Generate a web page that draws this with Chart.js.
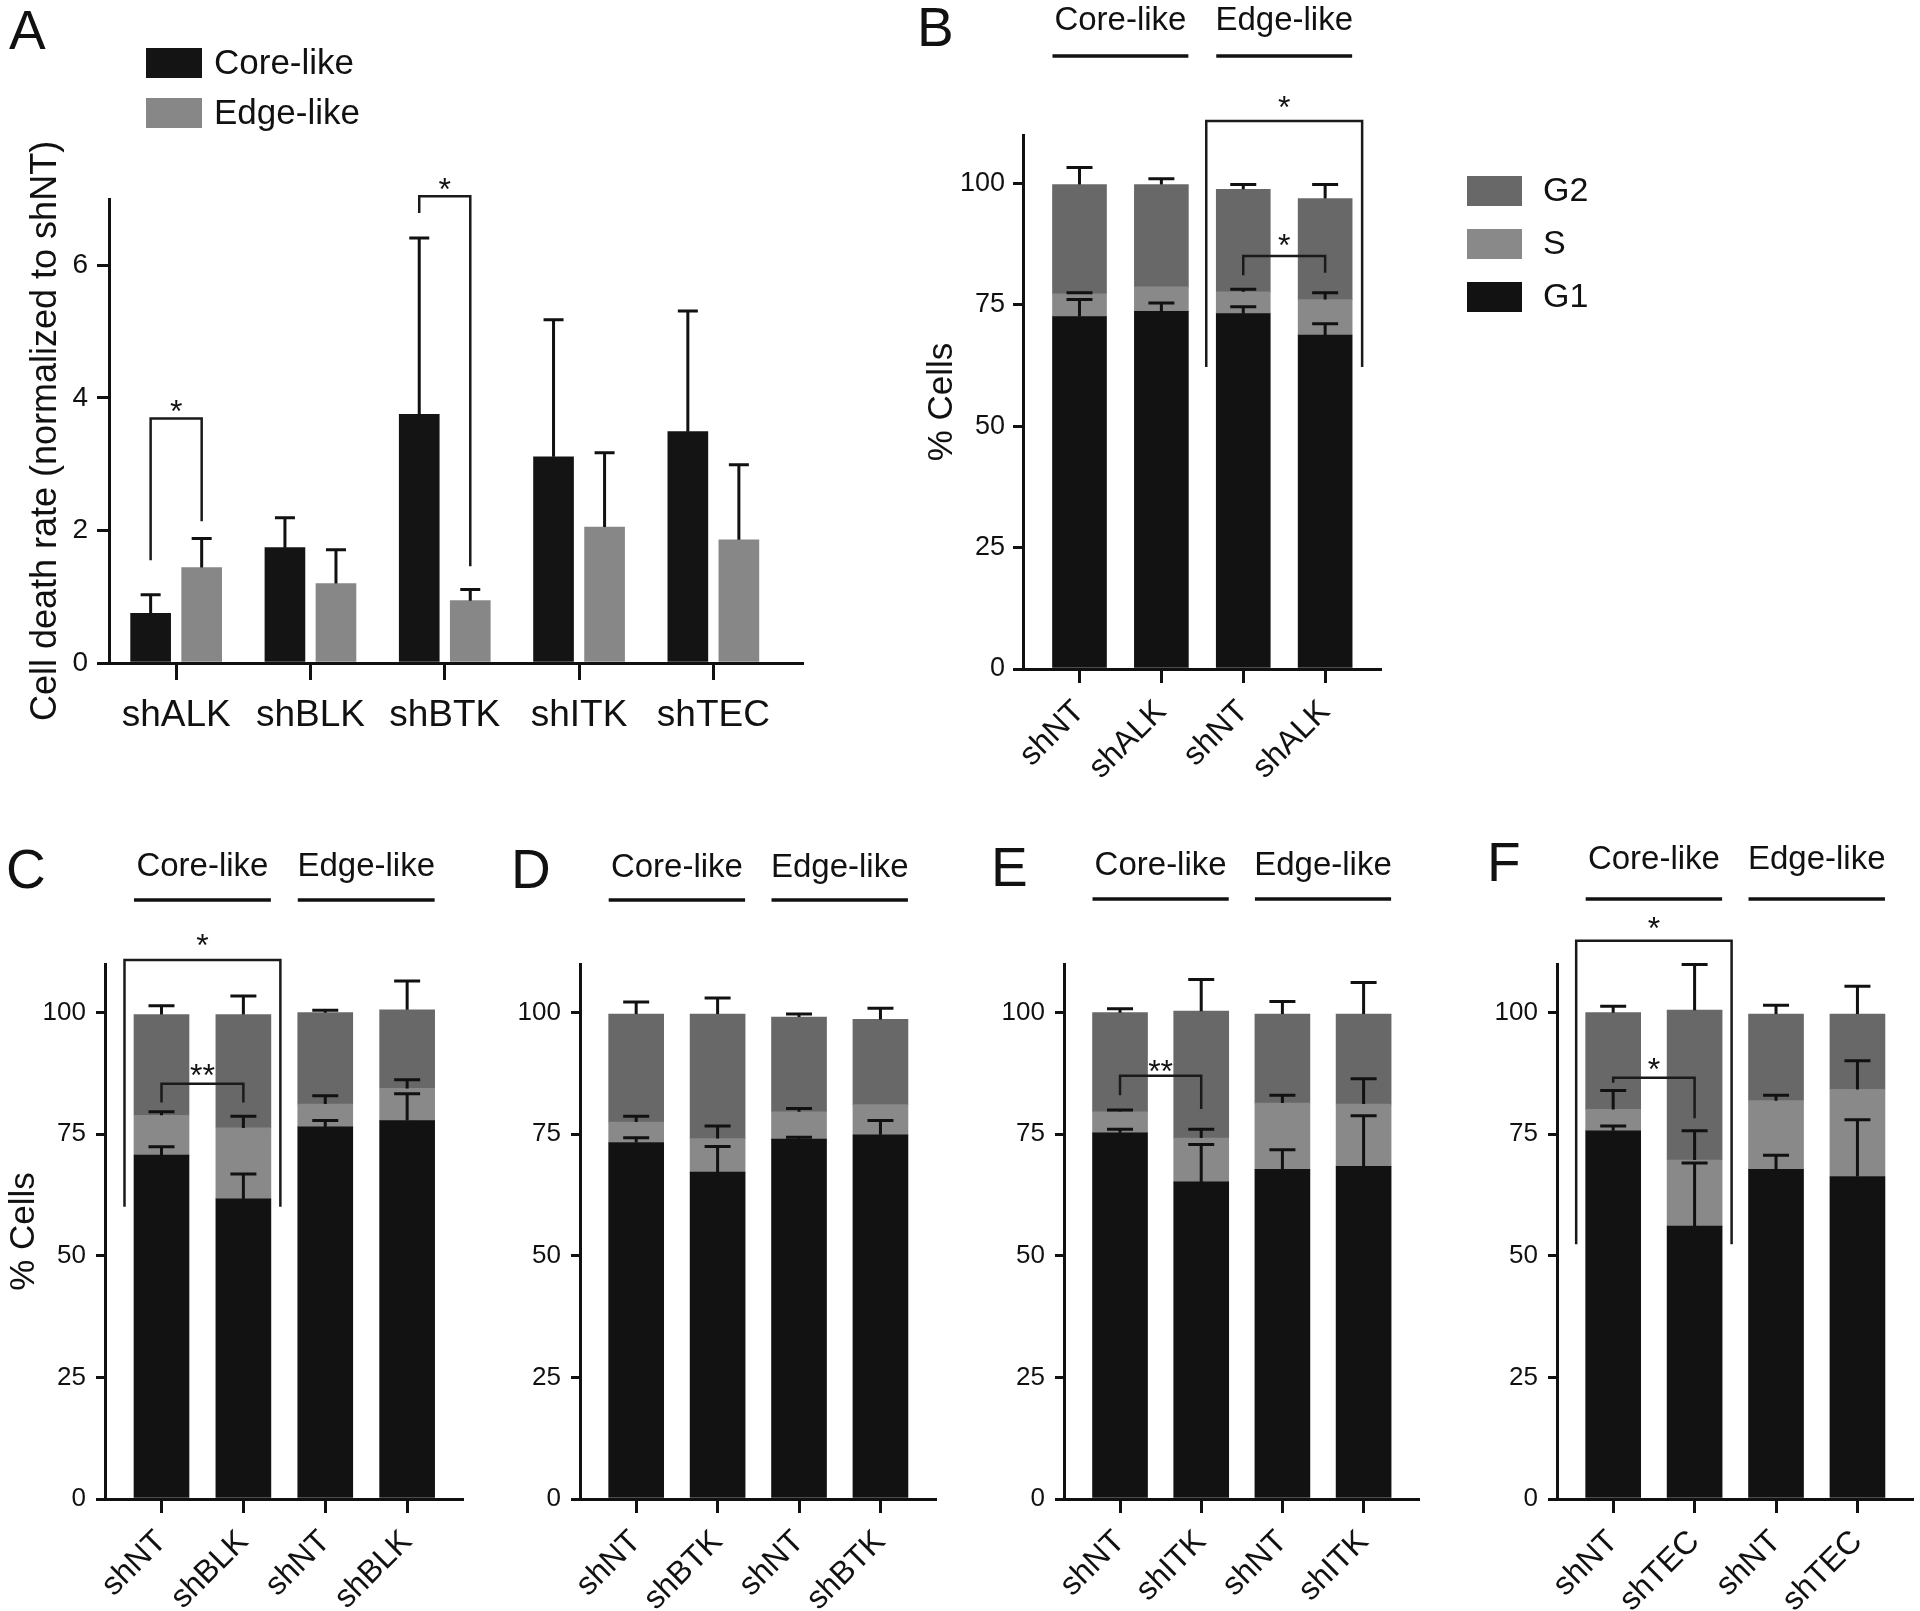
<!DOCTYPE html>
<html>
<head>
<meta charset="utf-8">
<script src="https://cdn.jsdelivr.net/npm/chart.js@4.4.1/dist/chart.umd.min.js"></script>
<style>
body { margin: 0; background: #fff; }
#page { position: relative; width: 1920px; height: 1611px; overflow: hidden; font-family: "Liberation Sans", Arial, sans-serif; }
canvas { position: absolute; }
.lt { position: absolute; font-size: 55px; line-height: 1; color: #111; }
</style>
</head>
<body>
<div id="page">
  <div class="lt" style="left:9px;top:3px">A</div>
  <div class="lt" style="left:917px;top:0px">B</div>
  <div class="lt" style="left:6px;top:842px">C</div>
  <div class="lt" style="left:511px;top:842px">D</div>
  <div class="lt" style="left:991px;top:840px">E</div>
  <div class="lt" style="left:1487px;top:835px">F</div>
  <canvas id="chartA" style="left:0;top:0" width="860" height="800"></canvas>
  <canvas id="chartB" style="left:900px;top:0" width="700" height="800"></canvas>
  <canvas id="chartC" style="left:0;top:820px" width="490" height="791"></canvas>
  <canvas id="chartD" style="left:490px;top:820px" width="470" height="791"></canvas>
  <canvas id="chartE" style="left:960px;top:820px" width="480" height="791"></canvas>
  <canvas id="chartF" style="left:1440px;top:820px" width="480" height="791"></canvas>
</div>
<script>
const FONT = '"Liberation Sans", Arial, sans-serif';

// panel A - cell death rate
const genes = ['shALK', 'shBLK', 'shBTK', 'shITK', 'shTEC'];
const deathCore = [0.75, 1.74, 3.75, 3.11, 3.49];
const deathCoreSd = [0.28, 0.45, 2.66, 2.07, 1.82];
const deathEdge = [1.44, 1.2, 0.94, 2.05, 1.86];
const deathEdgeSd = [0.44, 0.51, 0.17, 1.12, 1.13];
// [group, bracket top, core end, edge end, mark]
const sigA = [[0, 3.69, 1.55, 2.14, '*'], [2, 7.04, 6.79, 1.46, '*']];

const groups = ['Core-like', 'Edge-like'];

// panels B-F - cell cycle (%), segment heights and sd
const labelsB = ['shNT', 'shALK', 'shNT', 'shALK'];
const g1B = [72.6, 73.7, 73.2, 68.8];
const g1SdB = [3.5, 1.7, 1.4, 2.3];
const sB = [4.7, 5.0, 4.5, 7.3];
const sSdB = [0.2, 0, 0.5, 1.4];
const g2B = [22.5, 21.1, 21.1, 20.8];
const g2SdB = [3.5, 1.2, 1.0, 2.9];

const labelsC = ['shNT', 'shBLK', 'shNT', 'shBLK'];
const g1C = [70.7, 61.7, 76.5, 77.8];
const g1SdC = [1.7, 5.1, 1.3, 5.5];
const sC = [8.2, 14.6, 4.7, 6.6];
const sSdC = [0.7, 2.4, 1.7, 1.8];
const g2C = [20.7, 23.3, 18.8, 16.2];
const g2SdC = [1.8, 3.8, 0.5, 5.9];

const labelsD = ['shNT', 'shBTK', 'shNT', 'shBTK'];
const g1D = [73.3, 67.2, 74.0, 74.9];
const g1SdD = [1.0, 5.3, 0.4, 2.9];
const sD = [4.2, 6.9, 5.6, 6.2];
const sSdD = [1.2, 2.6, 0.7, 0];
const g2D = [22.2, 25.6, 19.5, 17.5];
const g2SdD = [2.5, 3.3, 0.6, 2.3];

const labelsE = ['shNT', 'shITK', 'shNT', 'shITK'];
const g1E = [75.3, 65.2, 67.8, 68.4];
const g1SdE = [0.7, 7.7, 4.0, 10.4];
const sE = [4.3, 9.0, 13.6, 12.8];
const sSdE = [0.4, 1.8, 1.6, 5.2];
const g2E = [20.4, 26.1, 18.3, 18.5];
const g2SdE = [0.8, 6.5, 2.6, 6.5];

const labelsF = ['shNT', 'shTEC', 'shNT', 'shTEC'];
const g1F = [75.7, 56.1, 67.8, 66.3];
const g1SdF = [1.0, 13.0, 2.9, 11.7];
const sF = [4.4, 13.6, 14.1, 17.9];
const sSdF = [3.9, 6.0, 1.1, 5.9];
const g2F = [19.9, 30.8, 17.8, 15.5];
const g2SdF = [1.3, 9.4, 1.8, 5.7];

// brackets: [bar a, bar b, top, end a, end b, mark]; boxes: [bar a, bar b, top, bottom, mark]
const sigB = [[2, 3, 85.1, 81.1, 81.6, '*']];
const boxB = [[2, 3, 112.9, 62.2, '*']];
const sigC = [[0, 1, 85.4, 81.5, 81.5, '**']];
const boxC = [[0, 1, 110.8, 60.1, '*']];
const sigE = [[0, 1, 87.0, 83.0, 80.2, '**']];
const sigF = [[0, 1, 86.6, 85.6, 78.3, '*']];
const boxF = [[0, 1, 114.8, 52.4, '*']];

const C_CORE = '#141414', C_EDGE = '#878787';
const C_G1 = '#121212', C_S = '#898989', C_G2 = '#686868';

Chart.defaults.font.family = FONT;
Chart.defaults.color = '#111';

const errorBars = {
  id: 'errorBars',
  afterDatasetsDraw(chart, args, o) {
    const ctx = chart.ctx, y = chart.scales.y;
    ctx.save();
    ctx.strokeStyle = '#111';
    ctx.lineWidth = 3;
    chart.data.datasets.forEach((ds, di) => {
      if (!ds.sd) return;
      chart.getDatasetMeta(di).data.forEach((bar, i) => {
        const sd = ds.sd[i];
        if (!sd) return;
        const end = y.getPixelForValue(y.getValueForPixel(bar.y) + sd);
        ctx.beginPath();
        ctx.moveTo(bar.x, bar.y);
        ctx.lineTo(bar.x, end);
        ctx.moveTo(bar.x - o.cap, end);
        ctx.lineTo(bar.x + o.cap, end);
        ctx.stroke();
      });
    });
    ctx.restore();
  }
};

const brackets = {
  id: 'brackets',
  afterDatasetsDraw(chart, args, o) {
    const {ctx, scales: {x, y}} = chart;
    ctx.save();
    ctx.strokeStyle = '#1a1a1a';
    ctx.lineWidth = 2.5;
    ctx.fillStyle = '#111';
    ctx.font = o.starSize + 'px ' + FONT;
    ctx.textAlign = 'center';
    ctx.textBaseline = 'alphabetic';
    (o.pairs || []).forEach(([a, b, top, ea, eb, mark]) => {
      const xa = x.getPixelForValue(a), xb = x.getPixelForValue(b), yt = y.getPixelForValue(top);
      ctx.beginPath();
      ctx.moveTo(xa, y.getPixelForValue(ea));
      ctx.lineTo(xa, yt);
      ctx.lineTo(xb, yt);
      ctx.lineTo(xb, y.getPixelForValue(eb));
      ctx.stroke();
      ctx.fillText(mark, (xa + xb) / 2, yt + o.gap);
    });
    (o.boxes || []).forEach(([a, b, top, bottom, mark]) => {
      const xa = x.getPixelForValue(a) - o.boxPad, xb = x.getPixelForValue(b) + o.boxPad;
      const yt = y.getPixelForValue(top), yb = y.getPixelForValue(bottom);
      ctx.beginPath();
      ctx.moveTo(xa, yb);
      ctx.lineTo(xa, yt);
      ctx.lineTo(xb, yt);
      ctx.lineTo(xb, yb);
      ctx.stroke();
      ctx.fillText(mark, (xa + xb) / 2, yt + o.boxGap);
    });
    ctx.restore();
  }
};

const groupHeads = {
  id: 'groupHeads',
  afterDraw(chart, args, o) {
    if (!o.names) return;
    const {ctx, scales: {x}} = chart;
    ctx.save();
    ctx.fillStyle = '#111';
    ctx.strokeStyle = '#111';
    ctx.lineWidth = 3.5;
    ctx.font = o.size + 'px ' + FONT;
    ctx.textAlign = 'center';
    ctx.textBaseline = 'middle';
    o.names.forEach((name, g) => {
      const xa = x.getPixelForValue(2 * g) - o.half, xb = x.getPixelForValue(2 * g + 1) + o.half;
      ctx.fillText(name, (xa + xb) / 2, o.textY);
      ctx.beginPath();
      ctx.moveTo(xa, o.lineY);
      ctx.lineTo(xb, o.lineY);
      ctx.stroke();
    });
    ctx.restore();
  }
};

const boxLegend = {
  id: 'boxLegend',
  afterDraw(chart, args, o) {
    if (o.x === undefined) return;
    const ctx = chart.ctx;
    let items = chart.data.datasets.slice();
    if (o.reverse) items.reverse();
    ctx.save();
    ctx.font = o.size + 'px ' + FONT;
    ctx.textBaseline = 'middle';
    items.forEach((d, k) => {
      const y0 = o.y + k * o.step;
      ctx.fillStyle = d.backgroundColor;
      ctx.fillRect(o.x, y0, o.w, o.h);
      ctx.fillStyle = '#111';
      ctx.fillText(d.label, o.x + o.w + o.gap, y0 + o.h / 2 + 1);
    });
    ctx.restore();
  }
};

function indexAxis(labels, min, max, height, font, rot, tickLen, pad, stacked) {
  return {
    type: 'linear', min: min, max: max, offset: false, stacked: stacked,
    afterBuildTicks: s => { s.ticks = labels.map((_, i) => ({value: i})); },
    afterFit: s => { s.height = height; },
    grid: {display: true, offset: false, drawOnChartArea: false, drawTicks: true, tickLength: tickLen, color: '#111', lineWidth: 3},
    border: {display: true, color: '#111', width: 3},
    ticks: {autoSkip: false, minRotation: rot, maxRotation: rot, padding: pad, color: '#111',
      font: {size: font}, callback: v => labels[v] === undefined ? '' : labels[v]}
  };
}

function valueAxis(max, step, width, title, titleSize, titlePad, font, tickLen, pad, stacked) {
  return {
    type: 'linear', min: 0, max: max, stacked: stacked,
    afterFit: s => { s.width = width; },
    grid: {display: true, drawOnChartArea: false, drawTicks: true, tickLength: tickLen, color: '#111', lineWidth: 3},
    border: {display: true, color: '#111', width: 3},
    ticks: {stepSize: step, includeBounds: false, padding: pad, color: '#111', font: {size: font}},
    title: {display: !!title, text: title, color: '#111', font: {size: titleSize}, padding: {top: titlePad, bottom: 0}}
  };
}

Chart.register(errorBars, brackets, groupHeads, boxLegend);

// panel A
const OFF = 0.19;
new Chart(document.getElementById('chartA'), {
  type: 'bar',
  data: {
    datasets: [
      {label: 'Core-like', data: deathCore.map((v, i) => ({x: i - OFF, y: v})), sd: deathCoreSd,
        backgroundColor: C_CORE, barThickness: 40, grouped: false},
      {label: 'Edge-like', data: deathEdge.map((v, i) => ({x: i + OFF, y: v})), sd: deathEdgeSd,
        backgroundColor: C_EDGE, barThickness: 40, grouped: false}
    ]
  },
  options: {
    responsive: false, animation: false, events: [],
    layout: {padding: {top: 199, right: 58, bottom: 0, left: 0}},
    scales: {
      x: indexAxis(genes, -0.5, 4.66, 137, 37, 0, 17, 14, false),
      y: valueAxis(7, 2, 109, 'Cell death rate (normalized to shNT)', 36, 24, 28, 12, 9, false)
    },
    plugins: {
      legend: {display: false}, tooltip: {enabled: false},
      errorBars: {cap: 10},
      brackets: {starSize: 32, gap: 4, pairs: sigA.map(([g, t, a, b, m]) => [g - OFF, g + OFF, t, a, b, m])},
      boxLegend: {x: 146, y: 48, w: 56, h: 30, step: 50, gap: 12, size: 35}
    }
  }
});

function cycleChart(id, labels, g1, g1Sd, s, sSd, g2, g2Sd, L) {
  return new Chart(document.getElementById(id), {
    type: 'bar',
    data: {
      datasets: [
        {label: 'G1', data: g1.map((v, i) => ({x: i, y: v})), sd: g1Sd, backgroundColor: C_G1, barThickness: L.bar},
        {label: 'S', data: s.map((v, i) => ({x: i, y: v})), sd: sSd, backgroundColor: C_S, barThickness: L.bar},
        {label: 'G2', data: g2.map((v, i) => ({x: i, y: v})), sd: g2Sd, backgroundColor: C_G2, barThickness: L.bar}
      ]
    },
    options: {
      responsive: false, animation: false, events: [],
      layout: {padding: {top: L.top, right: L.right, bottom: 0, left: 0}},
      scales: {
        x: indexAxis(labels, -0.69, 3.67, L.xh, 32, 45, 14, 10, true),
        y: valueAxis(110, 25, L.yw, L.title, 35, L.titlePad, L.tick, L.tickLen, L.tickPad, true)
      },
      plugins: {
        legend: {display: false}, tooltip: {enabled: false},
        errorBars: {cap: 13},
        brackets: {starSize: 32, gap: L.gap, boxGap: L.boxGap, boxPad: 37, pairs: L.pairs, boxes: L.boxes},
        groupHeads: {names: groups, half: L.bar / 2, size: 33, textY: L.textY, lineY: L.lineY},
        boxLegend: L.legend || {}
      }
    }
  });
}

cycleChart('chartB', labelsB, g1B, g1SdB, sB, sSdB, g2B, g2SdB, {
  bar: 54, top: 135, right: 220, xh: 131, yw: 123, title: '% Cells', titlePad: 21,
  tick: 27, tickLen: 10, tickPad: 8, gap: 0, boxGap: -3, pairs: sigB, boxes: boxB,
  textY: 21, lineY: 56,
  legend: {x: 567, y: 176, w: 55, h: 30, step: 53, gap: 21, size: 34, reverse: true}
});
cycleChart('chartC', labelsC, g1C, g1SdC, sC, sSdC, g2C, g2SdC, {
  bar: 55, top: 144, right: 28, xh: 112, yw: 105, title: '% Cells', titlePad: 3,
  tick: 26, tickLen: 9, tickPad: 10, gap: 2, boxGap: -4, pairs: sigC, boxes: boxC,
  textY: 47, lineY: 80
});
cycleChart('chartD', labelsD, g1D, g1SdD, sD, sSdD, g2D, g2SdD, {
  bar: 55, top: 144, right: 25, xh: 112, yw: 90, title: '', titlePad: 0,
  tick: 26, tickLen: 9, tickPad: 10, gap: 2, boxGap: -4, pairs: [], boxes: [],
  textY: 48, lineY: 80
});
cycleChart('chartE', labelsE, g1E, g1SdE, sE, sSdE, g2E, g2SdE, {
  bar: 55, top: 144, right: 22, xh: 112, yw: 104, title: '', titlePad: 0,
  tick: 26, tickLen: 9, tickPad: 10, gap: 6, boxGap: -4, pairs: sigE, boxes: [],
  textY: 46, lineY: 79
});
cycleChart('chartF', labelsF, g1F, g1SdF, sF, sSdF, g2F, g2SdF, {
  bar: 55, top: 144, right: 8, xh: 112, yw: 117, title: '', titlePad: 0,
  tick: 26, tickLen: 9, tickPad: 10, gap: 2, boxGap: -2, pairs: sigF, boxes: boxF,
  textY: 40, lineY: 79
});
</script>
</body>
</html>
